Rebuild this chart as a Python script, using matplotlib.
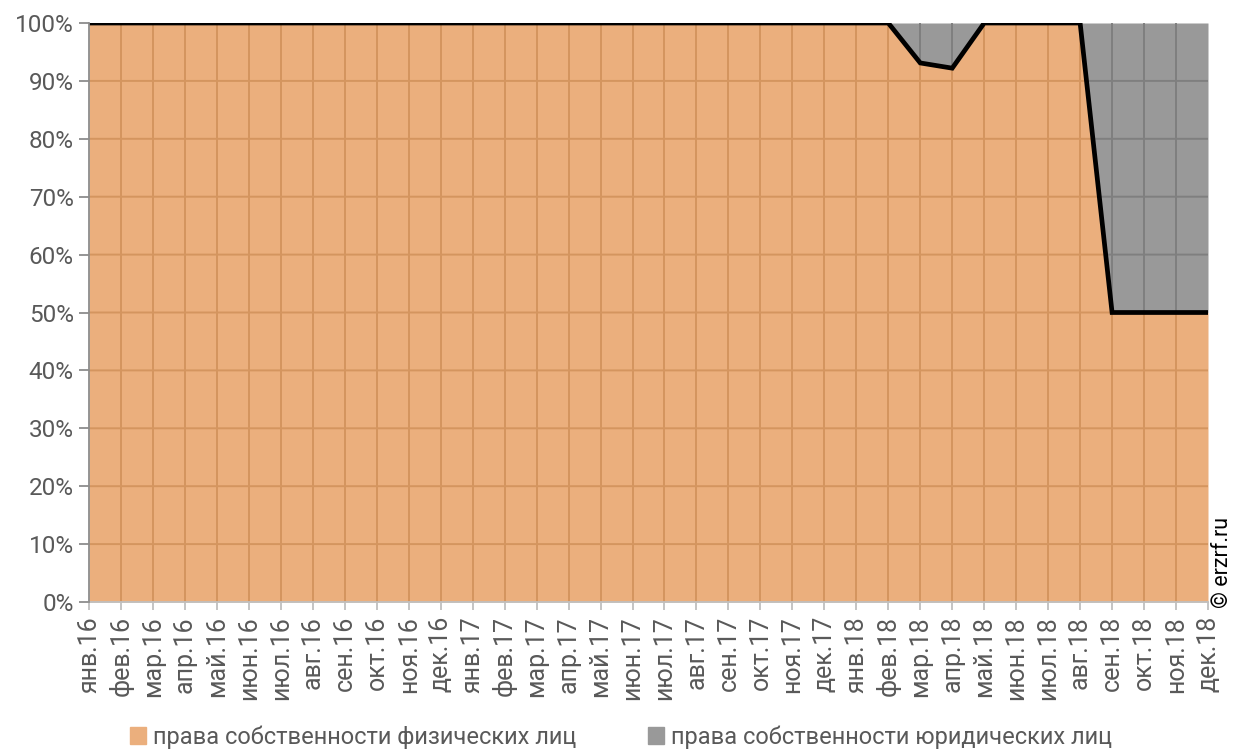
import matplotlib
matplotlib.use("Agg")
import matplotlib.pyplot as plt
import numpy as np
from matplotlib.patches import Patch

plt.rcParams['font.family'] = ['Roboto', 'DejaVu Sans']

months = ["янв", "фев", "мар", "апр", "май", "июн", "июл", "авг", "сен", "окт", "ноя", "дек"]
years = ["16", "17", "18"]
categories = [f"{m}.{y}" for y in years for m in months]

# share of ownership rights of individuals, %
individuals = [100] * 25 + [100, 93.1, 92.2, 100, 100, 100, 100, 50, 50, 50, 50]
legal_entities = [100 - v for v in individuals]

c_orange = "#EBAF7D"
c_orange_grid = "#D4955F"
c_gray = "#999999"
c_gray_grid = "#7F7F7F"
c_text = "#595959"

fig = plt.figure(figsize=(12.47, 7.51), dpi=100)
ax = fig.add_axes([89 / 1247, 1 - 602 / 751, (1208 - 89) / 1247, (602 - 23) / 751])

x = np.arange(len(categories))
ind = np.array(individuals, dtype=float)
leg = np.array(legal_entities, dtype=float)

ax.fill_between(x, 0, ind, color=c_orange, lw=0, zorder=1)
ax.fill_between(x, ind, ind + leg, color=c_gray, lw=0, zorder=1)

# gridlines tinted to the fill beneath them
for xi in x[1:-1]:
    ax.plot([xi, xi], [0, ind[xi]], color=c_orange_grid, lw=1.4, zorder=2)
    if leg[xi] > 0:
        ax.plot([xi, xi], [ind[xi], 100], color=c_gray_grid, lw=1.4, zorder=2)
xs = np.linspace(0, len(x) - 1, 3000)
top = np.interp(xs, x, ind)
for yv in range(10, 100, 10):
    below = np.where(top >= yv, yv, np.nan)
    above = np.where(top < yv, yv, np.nan)
    ax.plot(xs, below, color=c_orange_grid, lw=1.4, zorder=2)
    ax.plot(xs, above, color=c_gray_grid, lw=1.4, zorder=2)

ax.plot(x, ind, color="black", lw=3.4, zorder=4, solid_joinstyle="miter")

ax.set_xlim(0, len(x) - 1)
ax.set_ylim(0, 100)
ax.set_xticks(x)
ax.set_xticklabels(categories, rotation=90, fontsize=18, color=c_text)
ax.set_yticks(range(0, 101, 10))
ax.set_yticklabels([f"{v}%" for v in range(0, 101, 10)], fontsize=17.5, color=c_text)
ax.tick_params(axis="x", length=6, width=1.3, color="#BFBFBF", pad=4)
ax.tick_params(axis="y", length=7, width=1.3, color="#8C8C8C", pad=4)

for s in ["top", "right"]:
    ax.spines[s].set_visible(False)
ax.spines["left"].set_color("#8C8C8C")
ax.spines["left"].set_linewidth(1.3)
ax.spines["left"].set_zorder(5)
ax.spines["bottom"].set_color("#BFBFBF")
ax.spines["bottom"].set_linewidth(1.3)

fig.text(1223 / 1247, 1 - 562 / 751, "© erzrf.ru", rotation=90, fontsize=15.5,
         color="black", ha="center", va="center")

handles = [Patch(color=c_orange, label="права собственности физических лиц"),
           Patch(color=c_gray, label="права собственности юридических лиц")]
fig.legend(handles=handles, loc="center", bbox_to_anchor=(621 / 1247, 1 - 737 / 751),
           ncol=2, frameon=False, fontsize=17, handlelength=0.7, handleheight=0.7,
           handletextpad=0.3, columnspacing=3.0, labelcolor=c_text)

fig.savefig("out.png", dpi=100)
